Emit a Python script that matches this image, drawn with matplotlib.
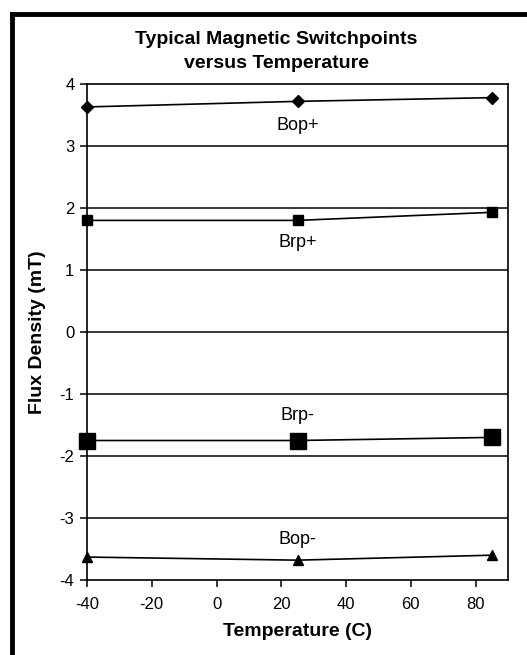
import matplotlib
matplotlib.use("Agg")
import matplotlib.pyplot as plt
from matplotlib.lines import Line2D

plt.rcParams['font.family'] = ['Liberation Sans', 'DejaVu Sans']
plt.rcParams['axes.unicode_minus'] = False

temps = [-40, 25, 85]
bop_pos = [3.63, 3.72, 3.78]
brp_pos = [1.80, 1.80, 1.93]
brp_neg = [-1.75, -1.75, -1.70]
bop_neg = [-3.63, -3.68, -3.60]
series_labels = ["Bop+", "Brp+", "Brp-", "Bop-"]
label_y = [3.33, 1.45, -1.35, -3.35]
x_ticks = [-40, -20, 0, 20, 40, 60, 80]
y_ticks = [-4, -3, -2, -1, 0, 1, 2, 3, 4]
grid_y = [-3, -2, -1, 0, 1, 2, 3]

fig = plt.figure(figsize=(5.27, 6.55), dpi=100)
ax = fig.add_axes([87/527, 1-580/655, (508-87)/527, (580-84)/655])

for y in grid_y:
    ax.axhline(y, color='black', lw=1.1, zorder=1)

ax.plot(temps, bop_pos, color='black', lw=1.2, marker='D', ms=6, zorder=3, clip_on=False)
ax.plot(temps, brp_pos, color='black', lw=1.2, marker='s', ms=6.5, zorder=3, clip_on=False)
ax.plot(temps, brp_neg, color='black', lw=1.2, marker='s', ms=11, zorder=3, clip_on=False)
ax.plot(temps, bop_neg, color='black', lw=1.2, marker='^', ms=7.5, zorder=3, clip_on=False)

for lab, yy in zip(series_labels, label_y):
    ax.text(25, yy, lab, ha='center', va='center', fontsize=13)

ax.set_xlim(-40, 90)
ax.set_ylim(-4, 4)
ax.set_xticks(x_ticks)
ax.set_yticks(y_ticks)
ax.tick_params(direction='out', length=5, width=1.1, labelsize=12, colors='black', pad=4)
ax.tick_params(axis='x', pad=7)
for s in ax.spines.values():
    s.set_linewidth(1.2)
    s.set_color('black')

ax.set_xlabel("Temperature (C)", fontsize=14, fontweight='bold', labelpad=8)
ax.set_ylabel("Flux Density (mT)", fontsize=14, fontweight='bold', labelpad=10)

fig.text(276/527, 1-44/655, "Typical Magnetic Switchpoints", ha='center', va='baseline',
         fontsize=14, fontweight='bold')
fig.text(276/527, 1-68/655, "versus Temperature", ha='center', va='baseline',
         fontsize=14, fontweight='bold')

# outer frame (top and left edges)
fig.add_artist(Line2D([12/527, 1.0], [1-14/655, 1-14/655], transform=fig.transFigure,
                      color='black', lw=3.5))
fig.add_artist(Line2D([12/527, 12/527], [0, 1-14/655], transform=fig.transFigure,
                      color='black', lw=3.5))

fig.savefig("out.png", dpi=100)
